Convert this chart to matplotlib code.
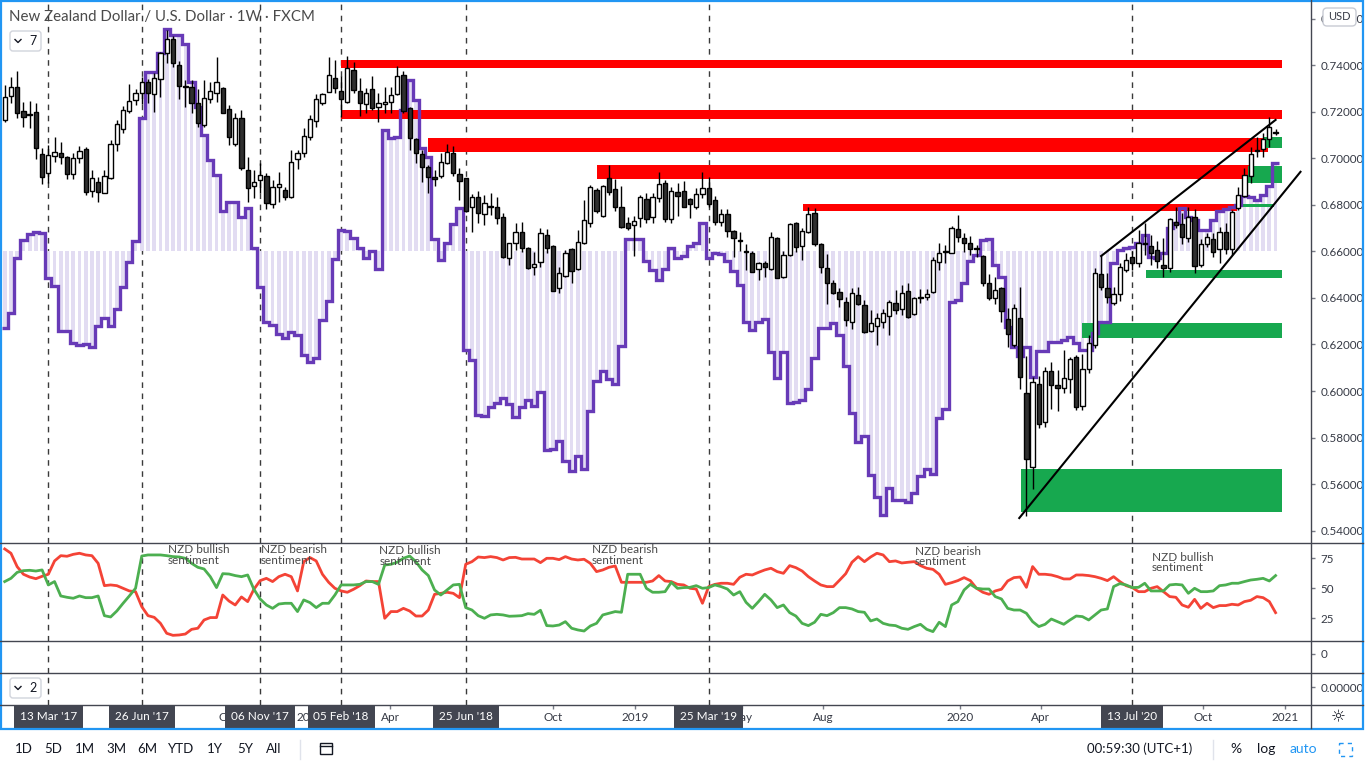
import numpy as np
import pandas as pd
import matplotlib
matplotlib.use('Agg')
import matplotlib.pyplot as plt
import matplotlib.dates as mdates
from matplotlib.patches import Rectangle, FancyBboxPatch

W, H = 1366, 768

# weekly NZD/USD candles, first bar is the week of 23 Jan 2017
start_week = '2017-01-23'
opens = [
    0.7163, 0.7268, 0.7305, 0.7203, 0.7190, 0.7198, 0.7017, 0.6936, 0.7010, 0.7021,
    0.7004, 0.6931, 0.7000, 0.7039, 0.6861, 0.6897, 0.6852, 0.6917, 0.7060, 0.7125,
    0.7203, 0.7249, 0.7279, 0.7327, 0.7276, 0.7339, 0.7451, 0.7511, 0.7400, 0.7310,
    0.7308, 0.7236, 0.7142, 0.7256, 0.7279, 0.7301, 0.7210, 0.7060, 0.7172, 0.6950,
    0.6881, 0.6907, 0.6924, 0.6802, 0.6875, 0.6864, 0.6832, 0.6996, 0.7021, 0.7093,
    0.7160, 0.7236, 0.7284, 0.7344, 0.7289, 0.7243, 0.7380, 0.7290, 0.7232, 0.7296,
    0.7219, 0.7233, 0.7242, 0.7275, 0.7358, 0.7215, 0.7083, 0.7018, 0.6961, 0.6921,
    0.6924, 0.6981, 0.7021, 0.6933, 0.6914, 0.6789, 0.6835, 0.6759, 0.6795, 0.6789,
    0.6746, 0.6570, 0.6637, 0.6682, 0.6613, 0.6532, 0.6553, 0.6669, 0.6623, 0.6441,
    0.6495, 0.6609, 0.6523, 0.6635, 0.6723, 0.6864, 0.6753, 0.6914, 0.6867, 0.6792,
    0.6723, 0.6712, 0.6742, 0.6824, 0.6746, 0.6828, 0.6893, 0.6739, 0.6854, 0.6859,
    0.6825, 0.6789, 0.6845, 0.6871, 0.6821, 0.6728, 0.6759, 0.6689, 0.6648, 0.6602,
    0.6592, 0.6523, 0.6549, 0.6524, 0.6656, 0.6491, 0.6584, 0.6721, 0.6624, 0.6685,
    0.6764, 0.6632, 0.6527, 0.6463, 0.6424, 0.6382, 0.6298, 0.6413, 0.6370, 0.6259,
    0.6281, 0.6298, 0.6324, 0.6378, 0.6351, 0.6431, 0.6330, 0.6405, 0.6405, 0.6427,
    0.6553, 0.6599, 0.6594, 0.6695, 0.6656, 0.6635, 0.6610, 0.6580, 0.6465, 0.6398,
    0.6441, 0.6308, 0.6198, 0.6312, 0.5990, 0.5672, 0.6029, 0.5868, 0.6086, 0.6025,
    0.6012, 0.6050, 0.6145, 0.5937, 0.6095, 0.6198, 0.6501, 0.6441, 0.6380, 0.6416,
    0.6522, 0.6575, 0.6549, 0.6632, 0.6625, 0.6606, 0.6542, 0.6527, 0.6728, 0.6716,
    0.6656, 0.6749, 0.6542, 0.6630, 0.6652, 0.6609, 0.6682, 0.6609, 0.6785, 0.6839,
    0.6924, 0.7035, 0.7039, 0.7082, 0.7115]
highs = [
    0.7315, 0.7348, 0.7375, 0.7243, 0.7246, 0.7236, 0.7046, 0.7057, 0.7090, 0.7069,
    0.7010, 0.7021, 0.7053, 0.7050, 0.6950, 0.6921, 0.6950, 0.7079, 0.7165, 0.7225,
    0.7319, 0.7296, 0.7351, 0.7340, 0.7365, 0.7458, 0.7551, 0.7525, 0.7417, 0.7337,
    0.7337, 0.7298, 0.7337, 0.7327, 0.7434, 0.7308, 0.7229, 0.7193, 0.7208, 0.7007,
    0.6950, 0.6979, 0.6936, 0.6907, 0.6942, 0.6878, 0.7036, 0.7036, 0.7129, 0.7186,
    0.7276, 0.7279, 0.7437, 0.7423, 0.7354, 0.7441, 0.7415, 0.7344, 0.7301, 0.7354,
    0.7279, 0.7305, 0.7308, 0.7397, 0.7376, 0.7222, 0.7086, 0.7036, 0.6971, 0.6950,
    0.7021, 0.7061, 0.7053, 0.6957, 0.6914, 0.6845, 0.6859, 0.6841, 0.6850, 0.6832,
    0.6764, 0.6636, 0.6721, 0.6725, 0.6620, 0.6597, 0.6699, 0.6695, 0.6627, 0.6534,
    0.6606, 0.6613, 0.6692, 0.6821, 0.6885, 0.6871, 0.6885, 0.6971, 0.6910, 0.6881,
    0.6749, 0.6752, 0.6842, 0.6850, 0.6850, 0.6942, 0.6907, 0.6875, 0.6892, 0.6902,
    0.6828, 0.6871, 0.6940, 0.6921, 0.6838, 0.6781, 0.6781, 0.6692, 0.6682, 0.6632,
    0.6602, 0.6556, 0.6560, 0.6682, 0.6661, 0.6603, 0.6723, 0.6725, 0.6699, 0.6789,
    0.6785, 0.6637, 0.6589, 0.6477, 0.6441, 0.6403, 0.6441, 0.6448, 0.6391, 0.6348,
    0.6334, 0.6353, 0.6391, 0.6434, 0.6456, 0.6463, 0.6405, 0.6437, 0.6437, 0.6574,
    0.6635, 0.6627, 0.6709, 0.6756, 0.6680, 0.6666, 0.6627, 0.6584, 0.6503, 0.6491,
    0.6448, 0.6355, 0.6374, 0.6448, 0.6150, 0.6061, 0.6064, 0.6104, 0.6126, 0.6090,
    0.6176, 0.6147, 0.6155, 0.6159, 0.6241, 0.6527, 0.6584, 0.6506, 0.6448, 0.6549,
    0.6592, 0.6603, 0.6692, 0.6721, 0.6670, 0.6646, 0.6656, 0.6742, 0.6792, 0.6764,
    0.6792, 0.6781, 0.6652, 0.6678, 0.6678, 0.6706, 0.6721, 0.6778, 0.6878, 0.6957,
    0.7050, 0.7093, 0.7107, 0.7176, 0.7125]
lows = [
    0.7157, 0.7236, 0.7172, 0.7133, 0.7129, 0.6996, 0.6888, 0.6893, 0.6983, 0.6974,
    0.6910, 0.6910, 0.6981, 0.6842, 0.6835, 0.6813, 0.6850, 0.6910, 0.7033, 0.7110,
    0.7193, 0.7229, 0.7232, 0.7236, 0.7200, 0.7265, 0.7408, 0.7393, 0.7253, 0.7222,
    0.7193, 0.7133, 0.7136, 0.7239, 0.7243, 0.7193, 0.7057, 0.7052, 0.6950, 0.6813,
    0.6828, 0.6850, 0.6781, 0.6788, 0.6813, 0.6821, 0.6828, 0.6952, 0.7007, 0.7079,
    0.7136, 0.7229, 0.7284, 0.7279, 0.7179, 0.7236, 0.7279, 0.7183, 0.7193, 0.7208,
    0.7155, 0.7193, 0.7193, 0.7272, 0.7195, 0.7036, 0.6980, 0.6900, 0.6850, 0.6882,
    0.6915, 0.6975, 0.6924, 0.6821, 0.6768, 0.6685, 0.6723, 0.6712, 0.6756, 0.6718,
    0.6570, 0.6541, 0.6606, 0.6599, 0.6524, 0.6498, 0.6534, 0.6594, 0.6431, 0.6422,
    0.6491, 0.6463, 0.6520, 0.6632, 0.6703, 0.6766, 0.6749, 0.6842, 0.6775, 0.6702,
    0.6692, 0.6582, 0.6706, 0.6723, 0.6723, 0.6814, 0.6728, 0.6721, 0.6752, 0.6789,
    0.6742, 0.6782, 0.6828, 0.6790, 0.6713, 0.6709, 0.6663, 0.6577, 0.6603, 0.6518,
    0.6513, 0.6477, 0.6491, 0.6520, 0.6484, 0.6487, 0.6581, 0.6599, 0.6563, 0.6680,
    0.6623, 0.6506, 0.6374, 0.6417, 0.6360, 0.6279, 0.6268, 0.6370, 0.6248, 0.6255,
    0.6198, 0.6270, 0.6241, 0.6332, 0.6327, 0.6314, 0.6325, 0.6380, 0.6391, 0.6422,
    0.6520, 0.6551, 0.6592, 0.6642, 0.6599, 0.6584, 0.6577, 0.6451, 0.6391, 0.6374,
    0.6298, 0.6188, 0.6190, 0.6007, 0.5464, 0.5579, 0.5840, 0.5847, 0.5922, 0.5914,
    0.5990, 0.5993, 0.5918, 0.5918, 0.6079, 0.6183, 0.6433, 0.6380, 0.6370, 0.6387,
    0.6510, 0.6520, 0.6534, 0.6584, 0.6541, 0.6527, 0.6489, 0.6513, 0.6700, 0.6630,
    0.6640, 0.6508, 0.6534, 0.6620, 0.6577, 0.6551, 0.6590, 0.6584, 0.6778, 0.6832,
    0.6895, 0.7007, 0.7007, 0.7050, 0.7100]
closes = [
    0.7262, 0.7308, 0.7196, 0.7179, 0.7187, 0.7043, 0.6921, 0.7013, 0.7026, 0.7004,
    0.6931, 0.7000, 0.7030, 0.6856, 0.6914, 0.6854, 0.6924, 0.7060, 0.7146, 0.7208,
    0.7246, 0.7279, 0.7329, 0.7279, 0.7344, 0.7451, 0.7511, 0.7411, 0.7311, 0.7305,
    0.7239, 0.7153, 0.7258, 0.7289, 0.7329, 0.7196, 0.7090, 0.7172, 0.6957, 0.6871,
    0.6899, 0.6927, 0.6809, 0.6875, 0.6888, 0.6835, 0.6985, 0.7021, 0.7096, 0.7168,
    0.7254, 0.7275, 0.7358, 0.7301, 0.7254, 0.7389, 0.7292, 0.7239, 0.7279, 0.7215,
    0.7236, 0.7243, 0.7271, 0.7354, 0.7205, 0.7086, 0.7021, 0.6961, 0.6921, 0.6911,
    0.6985, 0.7026, 0.6938, 0.6904, 0.6775, 0.6835, 0.6764, 0.6807, 0.6790, 0.6742,
    0.6577, 0.6635, 0.6685, 0.6616, 0.6530, 0.6545, 0.6678, 0.6613, 0.6431, 0.6506,
    0.6592, 0.6517, 0.6642, 0.6735, 0.6875, 0.6775, 0.6881, 0.6856, 0.6792, 0.6706,
    0.6702, 0.6732, 0.6832, 0.6738, 0.6835, 0.6888, 0.6738, 0.6861, 0.6839, 0.6792,
    0.6802, 0.6845, 0.6871, 0.6802, 0.6728, 0.6759, 0.6689, 0.6656, 0.6645, 0.6599,
    0.6513, 0.6549, 0.6532, 0.6660, 0.6487, 0.6584, 0.6718, 0.6620, 0.6688, 0.6761,
    0.6630, 0.6534, 0.6463, 0.6423, 0.6394, 0.6305, 0.6420, 0.6374, 0.6252, 0.6291,
    0.6312, 0.6334, 0.6381, 0.6346, 0.6422, 0.6319, 0.6398, 0.6401, 0.6416, 0.6563,
    0.6592, 0.6603, 0.6699, 0.6663, 0.6635, 0.6610, 0.6609, 0.6463, 0.6398, 0.6434,
    0.6345, 0.6244, 0.6355, 0.6061, 0.5706, 0.6037, 0.5857, 0.6086, 0.6025, 0.6012,
    0.6055, 0.6138, 0.5930, 0.6093, 0.6205, 0.6506, 0.6446, 0.6405, 0.6416, 0.6534,
    0.6563, 0.6551, 0.6635, 0.6630, 0.6592, 0.6560, 0.6530, 0.6738, 0.6714, 0.6663,
    0.6749, 0.6538, 0.6630, 0.6663, 0.6599, 0.6682, 0.6609, 0.6768, 0.6842, 0.6928,
    0.7018, 0.7033, 0.7082, 0.7133, 0.7107]

# purple overlay (positioning), drawn on the price scale around a 0.66 base
cot_base = 0.66
cot_line = [
    0.6269, 0.6334, 0.6570, 0.6649, 0.6673, 0.6683, 0.6680, 0.6484, 0.6451, 0.6259,
    0.6259, 0.6208, 0.6198, 0.6202, 0.6188, 0.6279, 0.6312, 0.6279, 0.6351, 0.6448,
    0.6553, 0.6645, 0.7172, 0.7372, 0.7372, 0.7451, 0.7554, 0.7530, 0.7530, 0.7490,
    0.7329, 0.7219, 0.7100, 0.6993, 0.6928, 0.6775, 0.6813, 0.6813, 0.6749, 0.6785,
    0.6613, 0.6448, 0.6298, 0.6284, 0.6245, 0.6226, 0.6255, 0.6241, 0.6155, 0.6125,
    0.6142, 0.6305, 0.6387, 0.6566, 0.6692, 0.6688, 0.6656, 0.6613, 0.6570, 0.6603,
    0.6523, 0.7122, 0.7086, 0.7093, 0.7208, 0.7336, 0.7251, 0.7043, 0.7007, 0.6652,
    0.6563, 0.6637, 0.6718, 0.6785, 0.6176, 0.6133, 0.5897, 0.5893, 0.5933, 0.5950,
    0.5969, 0.5944, 0.5890, 0.5933, 0.5961, 0.5936, 0.5996, 0.5746, 0.5751, 0.5786,
    0.5700, 0.5658, 0.5721, 0.5663, 0.5915, 0.6044, 0.6087, 0.6050, 0.6029, 0.6193,
    0.6653, 0.6653, 0.6653, 0.6559, 0.6520, 0.6477, 0.6523, 0.6613, 0.6570, 0.6580,
    0.6623, 0.6635, 0.6721, 0.6570, 0.6592, 0.6587, 0.6559, 0.6516, 0.6456, 0.6298,
    0.6262, 0.6298, 0.6308, 0.6166, 0.6055, 0.6169, 0.5947, 0.5954, 0.5961, 0.6007,
    0.6141, 0.6272, 0.6269, 0.6291, 0.6241, 0.6109, 0.5904, 0.5782, 0.5807, 0.5639,
    0.5543, 0.5467, 0.5582, 0.5532, 0.5532, 0.5524, 0.5563, 0.5635, 0.5663, 0.5643,
    0.5883, 0.5921, 0.6381, 0.6391, 0.6465, 0.6559, 0.6584, 0.6649, 0.6652, 0.6541,
    0.6491, 0.6276, 0.6190, 0.6150, 0.6188, 0.6061, 0.6172, 0.6172, 0.6209, 0.6209,
    0.6219, 0.6231, 0.6205, 0.6176, 0.6176, 0.6251, 0.6298, 0.6298, 0.6549, 0.6606,
    0.6613, 0.6620, 0.6635, 0.6670, 0.6577, 0.6570, 0.6594, 0.6699, 0.6723, 0.6785,
    0.6749, 0.6735, 0.6692, 0.6692, 0.6735, 0.6775, 0.6781, 0.6789, 0.6799, 0.6838,
    0.6835, 0.6821, 0.6842, 0.6881, 0.6981]

# sentiment pane, % of traders
sent_red = [
    82.8, 79.2, 68.0, 61.7, 59.4, 58.0, 60.0, 61.7, 72.8, 77.2,
    76.7, 78.3, 79.2, 77.8, 77.2, 70.8, 52.2, 52.8, 52.2, 50.0,
    47.8, 47.2, 34.7, 27.2, 25.8, 20.8, 12.5, 10.8, 11.1, 11.9,
    15.8, 16.7, 23.6, 25.6, 25.6, 44.4, 39.4, 36.1, 42.8, 38.9,
    49.2, 56.4, 58.3, 55.6, 59.7, 61.7, 59.7, 47.8, 72.2, 75.6,
    72.8, 61.7, 55.0, 50.0, 47.8, 46.7, 49.2, 52.2, 56.1, 55.6,
    55.6, 25.0, 30.6, 30.6, 33.3, 31.1, 26.9, 26.9, 31.9, 45.0,
    45.8, 46.7, 45.8, 42.2, 70.0, 72.2, 76.1, 75.6, 76.4, 75.6,
    73.6, 75.6, 75.8, 74.4, 74.4, 74.4, 71.4, 75.0, 75.0, 73.9,
    76.4, 74.4, 73.6, 74.2, 70.8, 63.9, 65.3, 67.5, 68.6, 55.0,
    55.0, 55.0, 55.0, 55.0, 56.1, 60.6, 56.1, 55.6, 53.3, 52.8,
    50.0, 49.4, 37.5, 51.4, 53.3, 54.2, 54.2, 53.3, 59.2, 61.7,
    61.1, 63.3, 65.3, 66.7, 63.9, 62.5, 68.9, 67.2, 64.4, 59.7,
    56.1, 52.8, 51.4, 51.4, 56.7, 62.2, 71.7, 76.4, 72.2, 76.1,
    79.2, 77.8, 72.2, 72.8, 71.1, 71.7, 72.2, 68.9, 66.7, 65.8,
    61.7, 53.3, 54.7, 56.4, 58.9, 56.4, 50.0, 46.7, 45.0, 47.8,
    49.2, 56.1, 58.9, 59.4, 50.8, 68.1, 61.7, 61.7, 61.1, 59.7,
    57.8, 57.8, 61.1, 61.1, 60.6, 59.7, 58.3, 56.4, 59.7, 55.6,
    52.2, 50.6, 47.2, 47.2, 50.0, 51.4, 47.2, 43.1, 42.5, 36.1,
    34.2, 40.8, 33.3, 37.5, 33.9, 35.6, 35.6, 36.7, 36.1, 38.9,
    40.0, 43.1, 42.2, 38.9, 29.7]
sent_green = [
    55.6, 58.3, 63.3, 64.7, 65.0, 64.4, 65.3, 52.8, 55.6, 43.6,
    42.5, 41.7, 43.6, 42.2, 42.2, 43.6, 27.2, 26.1, 31.1, 37.5,
    43.6, 50.0, 76.9, 77.8, 77.8, 77.8, 77.2, 76.4, 76.1, 75.0,
    70.8, 67.5, 66.1, 59.7, 50.6, 62.2, 61.9, 60.6, 59.7, 61.1,
    49.2, 41.1, 36.1, 33.3, 36.9, 37.5, 37.5, 30.6, 40.3, 38.1,
    33.9, 37.5, 37.5, 44.4, 52.8, 52.8, 52.8, 53.3, 55.6, 55.6,
    53.3, 69.4, 70.0, 71.7, 75.0, 76.9, 72.2, 65.3, 60.6, 48.6,
    44.4, 48.6, 52.8, 53.3, 33.9, 31.9, 27.2, 25.0, 27.8, 28.3,
    27.8, 26.7, 26.9, 27.2, 28.9, 28.3, 31.7, 18.9, 18.6, 19.4,
    22.2, 16.7, 15.3, 14.4, 18.6, 20.8, 27.8, 29.2, 30.6, 30.0,
    61.7, 61.7, 61.7, 50.0, 46.7, 46.7, 47.2, 55.0, 50.0, 50.6,
    50.8, 52.2, 50.0, 50.6, 52.8, 51.4, 49.4, 44.4, 47.2, 38.3,
    33.3, 38.9, 45.0, 40.3, 33.9, 36.1, 29.7, 26.9, 20.8, 18.9,
    21.7, 28.3, 27.2, 29.7, 33.9, 33.9, 32.8, 30.6, 30.0, 22.8,
    24.4, 20.8, 19.4, 18.9, 16.7, 15.8, 18.1, 20.0, 15.8, 13.9,
    21.7, 18.1, 36.1, 38.9, 48.6, 53.3, 50.0, 49.4, 49.4, 43.1,
    41.1, 33.3, 31.9, 31.9, 29.2, 22.2, 18.1, 20.0, 24.4, 22.2,
    20.0, 23.6, 26.9, 26.4, 23.6, 27.8, 31.9, 32.8, 51.4, 53.9,
    52.8, 50.6, 50.8, 54.2, 47.8, 47.8, 47.8, 52.8, 53.3, 52.8,
    45.8, 50.0, 47.2, 47.2, 47.8, 52.2, 52.8, 54.2, 54.2, 55.6,
    56.9, 57.5, 58.3, 56.1, 60.6]

# drawn zones: start, end, low, high
red_start = ['2018-02-05', '2018-02-05', '2018-05-14', '2018-11-19', '2019-07-09']
red_end = ['2020-12-28', '2020-12-28', '2020-12-12', '2020-11-21', '2020-11-08']
red_low = [0.7388, 0.7170, 0.7028, 0.6911, 0.6775]
red_high = [0.7421, 0.7208, 0.7089, 0.6971, 0.6804]
green_start = ['2020-03-10', '2020-05-18', '2020-07-28', '2020-11-20', '2020-12-07', '2020-11-08']
green_end = ['2020-12-28', '2020-12-28', '2020-12-28', '2020-12-28', '2020-12-28', '2020-12-19']
green_low = [0.5481, 0.6229, 0.6487, 0.6893, 0.7043, 0.6789]
green_high = [0.5664, 0.6293, 0.6520, 0.6968, 0.7093, 0.6804]

# trend lines (wedge)
lower_line_dates = ['2020-03-08', '2021-01-18']
lower_line_prices = [0.5454, 0.6942]
upper_line_dates = ['2020-06-08', '2020-12-21']
upper_line_prices = [0.6580, 0.7165]

marker_dates = ['2017-03-13', '2017-06-26', '2017-11-06', '2018-02-05',
                '2018-06-25', '2019-03-25', '2020-07-13']
marker_labels = ["13 Mar '17", "26 Jun '17", "06 Nov '17", "05 Feb '18",
                 "25 Jun '18", "25 Mar '19", "13 Jul '20"]
month_dates = ['2017-10-01', '2018-01-01', '2018-04-01', '2018-10-01', '2019-01-01',
               '2019-05-01', '2019-08-01', '2020-01-01', '2020-04-01', '2020-10-01',
               '2021-01-01']
month_labels = ['Oct', '2018', 'Apr', 'Oct', '2019', 'May', 'Aug', '2020', 'Apr',
                'Oct', '2021']

ann_text = ['NZD bullish\nsentiment', 'NZD bearish\nsentiment', 'NZD bullish\nsentiment',
            'NZD bearish\nsentiment', 'NZD bearish\nsentiment', 'NZD bullish\nsentiment']
ann_dates = ['2017-07-25', '2017-11-07', '2018-03-20', '2018-11-14', '2019-11-12',
             '2020-08-04']
ann_top = [86.5, 86.5, 86.0, 86.5, 85.5, 80.5]

price_ticks = [0.54, 0.56, 0.58, 0.60, 0.62, 0.64, 0.66, 0.68, 0.70, 0.72, 0.74, 0.76]
sent_ticks = [25, 50, 75]

plt.rcParams['font.family'] = ['Lato', 'DejaVu Sans']

TXT = '#363a45'
LAV = '#e2dcf2'
PURPLE = '#673ab7'
RED = '#ff0000'
GREEN = '#17a84f'

fig = plt.figure(figsize=(W / 100, H / 100), dpi=100)
fig.patch.set_facecolor('white')


def px_axes(x0, y0, x1, y1):
    return fig.add_axes([x0 / W, 1 - y1 / H, (x1 - x0) / W, (y1 - y0) / H])


def d2n(lst):
    return mdates.date2num(pd.to_datetime(lst))


xd = mdates.date2num(pd.date_range(start_week, periods=len(closes), freq='7D'))
x_left, x_right = xd[0] - 5.3, xd[0] + 1467.8


def style_pane(a):
    a.set_xlim(x_left, x_right)
    for s in a.spines.values():
        s.set_visible(False)
    a.set_xticks([])
    a.yaxis.tick_right()
    a.tick_params(axis='y', length=3, width=1, color='#787b86', labelsize=8.4,
                  labelcolor=TXT, pad=4)
    for d in d2n(marker_dates):
        a.axvline(d, color='#3a3a3a', lw=1, ls=(0, (4, 4)), zorder=0.5)


# ---- main price pane
ax = px_axes(0, 0, 1311, 543)
style_pane(ax)
ax.set_ylim(0.53468, 0.76803)
ax.set_yticks(price_ticks)
ax.set_yticklabels(['%.5f' % v for v in price_ticks])

cot = np.array(cot_line)
ax.bar(xd, cot - cot_base, bottom=cot_base, width=4.2, color=LAV, linewidth=0, zorder=1)

for s, e, lo, hi in zip(d2n(red_start), d2n(red_end), red_low, red_high):
    ax.add_patch(Rectangle((s, lo), e - s, hi - lo, color=RED, lw=0, zorder=2))
for s, e, lo, hi in zip(d2n(green_start), d2n(green_end), green_low, green_high):
    ax.add_patch(Rectangle((s, lo), e - s, hi - lo, color=GREEN, lw=0, zorder=2))

edges = np.append(xd - 3.5, xd[-1] + 3.5)
ax.stairs(cot, edges, baseline=None, color=PURPLE, lw=2.4, zorder=3)

o = np.array(opens)
c = np.array(closes)
up = c >= o
ax.vlines(xd, lows, highs, color='black', lw=1, zorder=4)
body = np.maximum(np.abs(c - o), 0.0004)
ax.bar(xd[up], body[up], bottom=np.minimum(o, c)[up], width=4.8,
       color='white', edgecolor='black', linewidth=1, zorder=5)
ax.bar(xd[~up], body[~up], bottom=np.minimum(o, c)[~up], width=4.8,
       color='#2f2f2f', edgecolor='black', linewidth=1, zorder=5)

ax.plot(d2n(lower_line_dates), lower_line_prices, color='black', lw=1.5, zorder=6)
ax.plot(d2n(upper_line_dates), upper_line_prices, color='black', lw=1.5, zorder=6)

# ---- sentiment pane
ax_s = px_axes(0, 543, 1311, 641)
style_pane(ax_s)
ax_s.set_ylim(6.08, 87.75)
ax_s.set_yticks(sent_ticks)
ax_s.plot(xd, sent_red, color='#f44336', lw=2.0, zorder=3)
ax_s.plot(xd, sent_green, color='#4caf50', lw=2.0, zorder=3)
for t, d, y in zip(ann_text, d2n(ann_dates), ann_top):
    ax_s.text(d, y, t, fontsize=8.5, color='#4a4a4a', ha='left', va='top',
              linespacing=0.95, zorder=4)

# ---- two empty indicator panes
ax3 = px_axes(0, 641, 1311, 673)
style_pane(ax3)
ax3.set_ylim(-0.594, 0.406)
ax3.set_yticks([0])
ax4 = px_axes(0, 673, 1311, 705)
style_pane(ax4)
ax4.set_ylim(-0.5625, 0.4375)
ax4.set_yticks([0])
ax4.set_yticklabels(['0.00000'])

# ---- time axis
ax_t = px_axes(0, 705, 1311, 728)
ax_t.set_xlim(x_left, x_right)
ax_t.set_ylim(0, 1)
ax_t.axis('off')
ax_t.vlines(d2n(month_dates), 0.82, 1.0, color='#787b86', lw=1)
for d, lab in zip(d2n(month_dates), month_labels):
    ax_t.text(d, 0.45, lab, fontsize=8.5, color=TXT, ha='center', va='center')
for d, lab in zip(d2n(marker_dates), marker_labels):
    ax_t.text(d, 0.5, lab, fontsize=8.5, color='white', ha='center', va='center',
              bbox=dict(boxstyle='square,pad=0.5', fc='#434651', ec='none'), zorder=5)

# ---- window chrome drawn in pixel space
ov = fig.add_axes([0, 0, 1, 1])
ov.set_xlim(0, W)
ov.set_ylim(H, 0)
ov.axis('off')

for y in [543, 641, 673, 705]:
    ov.plot([0, 1363], [y, y], color='#434651', lw=1)
ov.plot([1311, 1311], [0, 728], color='#434651', lw=1)
ov.add_patch(Rectangle((1, 1), 1362, 728, fill=False, ec='#2196f3', lw=1.6))

ov.text(9, 17, 'New Zealand Dollar / U.S. Dollar \u00b7 1W \u00b7 FXCM', fontsize=10.8,
        color='#4a4a4a', ha='left', va='center')

for yb, num in [(31, '7'), (678, '2')]:
    ov.add_patch(FancyBboxPatch((10, yb), 31, 20, boxstyle='round,pad=0,rounding_size=3',
                                fc='white', ec='#d1d4dc', lw=1))
    ov.plot([15, 18, 21], [yb + 8.5, yb + 11.5, yb + 8.5], color='#131722', lw=1)
    ov.text(29, yb + 10, num, fontsize=9, color='#131722', ha='left', va='center')

ov.add_patch(FancyBboxPatch((1323, 8), 33, 18, boxstyle='round,pad=0,rounding_size=4',
                            fc='white', ec='#c8cbd3', lw=1))
ov.text(1339.5, 17, 'USD', fontsize=8, color=TXT, ha='center', va='center')

ov.text(1338, 717, '\u263c', fontsize=12, color='#131722', ha='center', va='center',
        family='DejaVu Sans')

# bottom toolbar
for x, lab in zip([24, 53, 85, 116, 147, 181, 215, 245, 274],
                  ['1D', '5D', '1M', '3M', '6M', 'YTD', '1Y', '5Y', 'All']):
    ov.text(x, 749, lab, fontsize=9.5, color='#131722', ha='center', va='center')
ov.plot([300, 300], [740, 759], color='#e0e3eb', lw=1)
ov.add_patch(Rectangle((320, 743), 12, 11, fill=False, ec='#131722', lw=1))
ov.plot([320, 332], [746, 746], color='#131722', lw=1)
ov.text(1140, 749, '00:59:30 (UTC+1)', fontsize=9.5, color='#131722', ha='center',
        va='center')
ov.plot([1213, 1213], [740, 759], color='#e0e3eb', lw=1)
ov.text(1236, 749, '%', fontsize=10, color='#131722', ha='center', va='center')
ov.text(1266, 749, 'log', fontsize=10, color='#131722', ha='center', va='center')
ov.text(1303, 749, 'auto', fontsize=10, color='#2196f3', ha='center', va='center')
ov.add_patch(Rectangle((1339, 743), 13, 13, fill=False, ec='#2196f3', lw=1, ls=(0, (3, 3))))

fig.savefig('out.png', dpi=100, facecolor='white')
